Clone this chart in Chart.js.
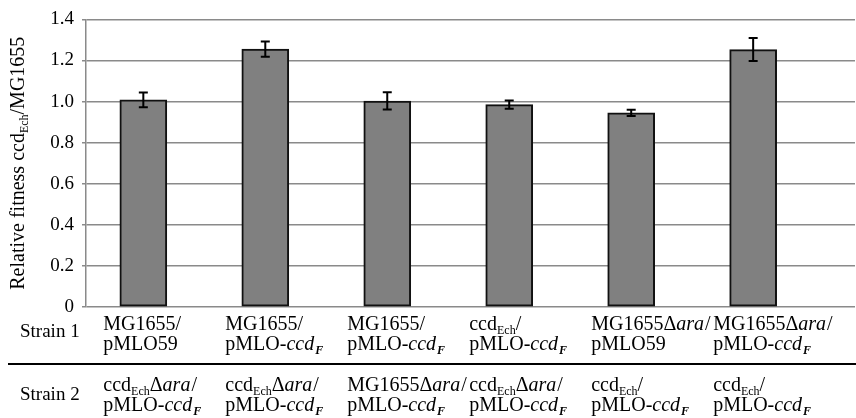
<!DOCTYPE html>
<html>
<head>
<meta charset="utf-8">
<script src="https://cdn.jsdelivr.net/npm/chart.js@4"></script>
<style>
  html, body { margin: 0; padding: 0; background: #fff; }
  #c { display: block; }
</style>
</head>
<body>
<canvas id="c" width="856" height="418"></canvas>
<script>
// values
const fitness = [1.008, 1.255, 1.003, 0.985, 0.945, 1.253];
const errors  = [0.036, 0.037, 0.042, 0.020, 0.015, 0.056];
const yTicks  = [0, 0.2, 0.4, 0.6, 0.8, 1.0, 1.2, 1.4];

// text segments: r = roman, i = italic, s = subscript, is = italic subscript
const ccdF     = [['pMLO-', 'r'], ['ccd', 'i'], ['F', 'is']];
const p59      = [['pMLO59', 'r']];
const mg       = [['MG1655/', 'r']];
const mgDara   = [['MG1655', 'r'], ['\u0394', 'r'], ['ara', 'i'], ['/', 'r']];
const ech      = [['ccd', 'r'], ['Ech', 's'], ['/', 'r']];
const echDara  = [['ccd', 'r'], ['Ech', 's'], ['\u0394', 'r'], ['ara', 'i'], ['/', 'r']];

const strain1 = [[mg, p59], [mg, ccdF], [mg, ccdF], [ech, ccdF], [mgDara, p59], [mgDara, ccdF]];
const strain2 = [[echDara, ccdF], [echDara, ccdF], [mgDara, ccdF], [echDara, ccdF], [ech, ccdF], [ech, ccdF]];
const rowNames = ['Strain 1', 'Strain 2'];
const yTitle = [['Relative fitness ccd', 'r'], ['Ech', 's'], ['/MG1655', 'r']];

const SERIF = '"Liberation Serif", "DejaVu Serif", serif';

function segFont(kind, size) {
    if (kind === 'i') return `italic ${size}px ${SERIF}`;
    if (kind === 's') return `${Math.round(size * 0.6)}px ${SERIF}`;
    if (kind === 'is') return `italic bold ${Math.round(size * 0.62)}px ${SERIF}`;
    return `${size}px ${SERIF}`;
}

function richWidth(ctx, parts, size) {
    let w = 0;
    parts.forEach(([t, k]) => { ctx.font = segFont(k, size); w += ctx.measureText(t).width; });
    return w;
}

function drawRich(ctx, parts, x, y, size) {
    parts.forEach(([t, k]) => {
        ctx.font = segFont(k, size);
        const dy = (k === 's' || k === 'is') ? size * 0.22 : 0;
        ctx.fillText(t, x, y + dy);
        x += ctx.measureText(t).width + (k === 'i' ? 1 : 0);
    });
}

const errorBars = {
    id: 'errorBars',
    afterDatasetsDraw(chart) {
        const {ctx, scales: {x, y}} = chart;
        ctx.save();
        ctx.strokeStyle = '#000';
        ctx.lineWidth = 2;
        fitness.forEach((v, i) => {
            const px = x.getPixelForValue(i);
            const top = y.getPixelForValue(v + errors[i]);
            const bot = y.getPixelForValue(v - errors[i]);
            ctx.beginPath();
            ctx.moveTo(px, top); ctx.lineTo(px, bot);
            ctx.moveTo(px - 4.5, top); ctx.lineTo(px + 4.5, top);
            ctx.moveTo(px - 4.5, bot); ctx.lineTo(px + 4.5, bot);
            ctx.stroke();
        });
        ctx.restore();
    }
};

const strainTable = {
    id: 'strainTable',
    afterDraw(chart) {
        const {ctx, chartArea, scales: {x}} = chart;
        const b = chartArea.bottom;
        ctx.save();
        ctx.fillStyle = '#000';
        ctx.textBaseline = 'alphabetic';
        ctx.textAlign = 'left';

        // y axis title
        ctx.save();
        ctx.translate(17, (chartArea.top + b) / 2);
        ctx.rotate(-Math.PI / 2);
        const tw = richWidth(ctx, yTitle, 20);
        drawRich(ctx, yTitle, -tw / 2, 7, 20);
        ctx.restore();

        ctx.font = `19px ${SERIF}`;
        ctx.fillText(rowNames[0], 20, b + 30);
        ctx.fillText(rowNames[1], 20, b + 93);

        [strain1, strain2].forEach((rows, r) => {
            const base = b + (r === 0 ? 23 : 84);
            rows.forEach((lines, i) => {
                const lx = x.getPixelForValue(i) - 40;
                drawRich(ctx, lines[0], lx, base, 20);
                drawRich(ctx, lines[1], lx, base + 20, 20);
            });
        });

        ctx.strokeStyle = '#000';
        ctx.lineWidth = 2;
        ctx.beginPath();
        ctx.moveTo(8, b + 57);
        ctx.lineTo(chart.width, b + 57);
        ctx.stroke();
        ctx.restore();
    }
};

new Chart(document.getElementById('c'), {
    type: 'bar',
    data: {
        datasets: [{
            data: fitness.map((v, i) => ({x: i, y: v})),
            backgroundColor: '#808080',
            borderColor: '#111',
            borderWidth: 2,
            borderSkipped: false,
            barThickness: 47
        }]
    },
    options: {
        responsive: false,
        animation: false,
        layout: { padding: { top: 19, right: 1, left: 0, bottom: 0 } },
        plugins: { legend: { display: false }, tooltip: { enabled: false } },
        scales: {
            x: {
                type: 'linear',
                offset: false,
                bounds: 'ticks',
                min: -0.47,
                max: 5.835,
                ticks: { display: false },
                grid: { display: false, offset: false },
                border: { display: false },
                afterFit(s) { s.height = 111; }
            },
            y: {
                min: yTicks[0],
                max: yTicks[yTicks.length - 1],
                afterBuildTicks(s) { s.ticks = yTicks.map(v => ({value: v})); },
                ticks: {
                    callback: v => v === 0 ? '0' : v.toFixed(1),
                    font: { family: SERIF, size: 19 },
                    color: '#000',
                    padding: 8
                },
                grid: { color: '#8a8a8a', lineWidth: 1.5, tickLength: 4 },
                border: { color: '#8a8a8a', width: 1.5 },
                afterFit(s) { s.width = 86; }
            }
        }
    },
    plugins: [errorBars, strainTable]
});
</script>
</body>
</html>
